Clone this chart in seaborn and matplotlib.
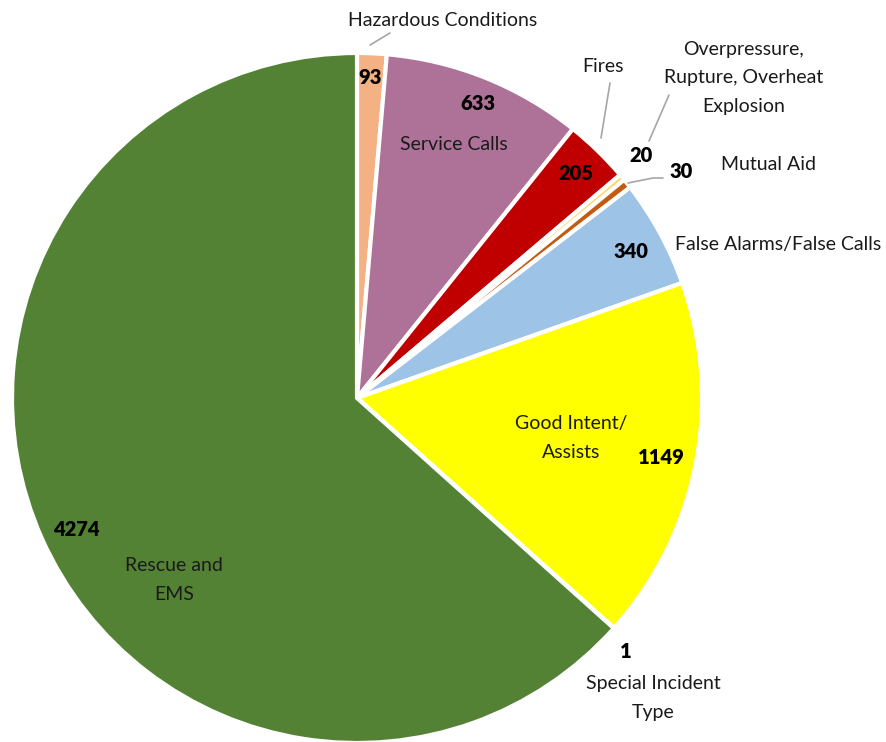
import matplotlib
matplotlib.use("Agg")
import matplotlib.pyplot as plt
import seaborn as sns

sns.set_theme(style="white")
plt.rcParams['font.family'] = ['Lato', 'DejaVu Sans']

categories = ["Hazardous Conditions", "Service Calls", "Fires",
              "Overpressure,\nRupture, Overheat\nExplosion", "Mutual Aid",
              "False Alarms/False Calls", "Good Intent/\nAssists",
              "Special Incident\nType", "Rescue and\nEMS"]
values = [93, 633, 205, 20, 30, 340, 1149, 1, 4274]
colors = ["#F4B183", "#AE7298", "#C00000", "#FFD966", "#C55A11",
          "#9DC3E6", "#FFFF00", "#7F7F7F", "#548235"]

# label positions in pixels (x, y from top): value label, category label
W, H = 887, 742
CX, CY, R = 357, 398, 345
value_pos = [(370, 77), (478, 104), (576, 174), (641, 156), (681, 171),
             (631, 252), (661, 458), (626, 652), (76, 529)]
cat_pos = [(443, 20), (454, 144), (603, 67), (744, 78), (769, 165),
           (778, 245), (571, 438), (653, 698), (174, 580)]
leaders = [[(370, 45), (390, 33)], None, [(601, 138), (610, 83)],
           [(649, 141), (669, 95)], [(628, 183), (653, 178), (663, 178)],
           None, None, None, None]

fig = plt.figure(figsize=(W / 100, H / 100), dpi=100)
ax = fig.add_axes([(CX - R) / W, (H - CY - R) / H, 2 * R / W, 2 * R / H])
ax.pie(values, colors=colors, startangle=90, counterclock=False, radius=1,
       wedgeprops=dict(edgecolor="white", linewidth=3))
ax.set_xlim(-1, 1)
ax.set_ylim(-1, 1)
ax.set_aspect("equal")
ax.axis("off")


def to_data(p):
    return ((p[0] - CX) / R, (CY - p[1]) / R)


for v, vp, c, cp, ld in zip(values, value_pos, categories, cat_pos, leaders):
    x, y = to_data(vp)
    ax.text(x, y, str(v), ha="center", va="center", fontsize=14.5,
            fontweight="heavy", color="black", clip_on=False)
    x, y = to_data(cp)
    ax.text(x, y, c, ha="center", va="center", fontsize=14,
            color="#1a1a1a", linespacing=1.85, clip_on=False)
    if ld:
        pts = [to_data(p) for p in ld]
        ax.plot([p[0] for p in pts], [p[1] for p in pts], color="#A6A6A6",
                lw=1.2, clip_on=False)

fig.savefig("out.png", dpi=100)
